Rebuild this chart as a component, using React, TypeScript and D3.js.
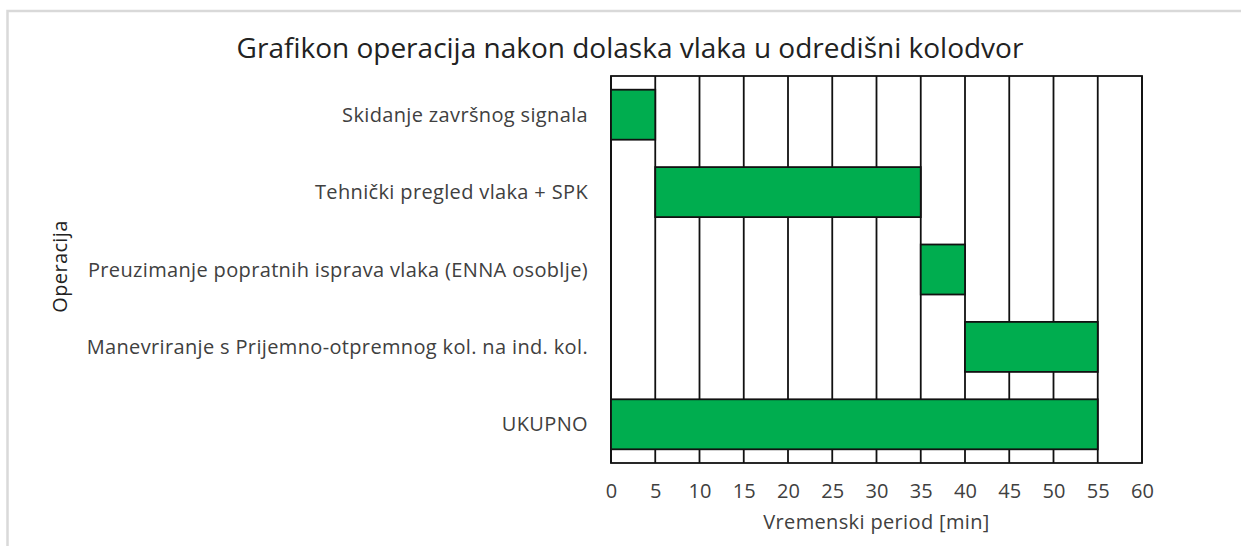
import React, { useRef, useEffect } from 'react';
import * as d3 from 'd3';

const operations = [
  'Skidanje završnog signala',
  'Tehnički pregled vlaka + SPK',
  'Preuzimanje popratnih isprava vlaka (ENNA osoblje)',
  'Manevriranje s Prijemno-otpremnog kol. na ind. kol.',
  'UKUPNO',
];
const startTimes = [0, 5, 35, 40, 0];
const durations = [5, 30, 5, 15, 55];
const xTicks = [0, 5, 10, 15, 20, 25, 30, 35, 40, 45, 50, 55, 60];

const FONT = '"Open Sans", "Noto Sans", sans-serif';

export default function App() {
  const svgRef = useRef<SVGSVGElement>(null);

  useEffect(() => {
    if (!svgRef.current) return;
    const width = 1241;
    const height = 546;
    const plot = { left: 611, right: 1142, top: 76, bottom: 463 };

    const svg = d3.select(svgRef.current);
    svg.selectAll('*').remove();
    svg.attr('width', width).attr('height', height);

    svg.append('rect').attr('width', width).attr('height', height).attr('fill', '#fff');

    // outer frame (only top + left visible)
    svg
      .append('path')
      .attr('d', `M7.5,${height} L7.5,11 L${width},11`)
      .attr('fill', 'none')
      .attr('stroke', '#d9d9d9')
      .attr('stroke-width', 2.5);

    const x = d3.scaleLinear().domain([0, 60]).range([plot.left, plot.right]);
    const y = d3
      .scaleBand<string>()
      .domain(operations)
      .range([plot.top, plot.bottom])
      .paddingInner(0.354)
      .paddingOuter(0.177);

    // vertical gridlines
    svg
      .append('g')
      .selectAll('line')
      .data(xTicks)
      .enter()
      .append('line')
      .attr('x1', (d) => x(d))
      .attr('x2', (d) => x(d))
      .attr('y1', plot.top)
      .attr('y2', plot.bottom)
      .attr('stroke', '#111')
      .attr('stroke-width', 1.8);

    svg
      .append('rect')
      .attr('x', plot.left)
      .attr('y', plot.top)
      .attr('width', plot.right - plot.left)
      .attr('height', plot.bottom - plot.top)
      .attr('fill', 'none')
      .attr('stroke', '#111')
      .attr('stroke-width', 1.8);

    // bars
    svg
      .append('g')
      .selectAll('rect')
      .data(operations)
      .enter()
      .append('rect')
      .attr('x', (_, i) => x(startTimes[i]))
      .attr('y', (d) => y(d)!)
      .attr('width', (_, i) => x(startTimes[i] + durations[i]) - x(startTimes[i]))
      .attr('height', y.bandwidth())
      .attr('fill', '#00ad4f')
      .attr('stroke', '#111')
      .attr('stroke-width', 1.8);

    // category labels
    svg
      .append('g')
      .selectAll('text')
      .data(operations)
      .enter()
      .append('text')
      .attr('x', 588)
      .attr('y', (d) => y(d)! + y.bandwidth() / 2)
      .attr('dy', '0.35em')
      .attr('text-anchor', 'end')
      .attr('font-family', FONT)
      .attr('font-size', 20)
      .attr('letter-spacing', 0.35)
      .attr('fill', '#404040')
      .text((d) => d);

    // x tick labels
    const xAxis = svg
      .append('g')
      .attr('transform', `translate(0,${plot.bottom})`)
      .call(d3.axisBottom(x).tickValues(xTicks).tickSize(0).tickPadding(21));
    xAxis.select('.domain').remove();
    xAxis
      .selectAll('text')
      .attr('font-family', FONT)
      .attr('font-size', 20)
      .attr('fill', '#404040');

    // titles
    svg
      .append('text')
      .attr('x', 630)
      .attr('y', 48)
      .attr('dy', '0.35em')
      .attr('text-anchor', 'middle')
      .attr('font-family', FONT)
      .attr('font-size', 28)
      .attr('fill', '#222')
      .text('Grafikon operacija nakon dolaska vlaka u odredišni kolodvor');

    svg
      .append('text')
      .attr('x', (plot.left + plot.right) / 2)
      .attr('y', 522)
      .attr('dy', '0.35em')
      .attr('text-anchor', 'middle')
      .attr('font-family', FONT)
      .attr('font-size', 20)
      .attr('letter-spacing', 0.35)
      .attr('fill', '#404040')
      .text('Vremenski period [min]');

    svg
      .append('text')
      .attr('transform', `translate(60,${(plot.top + plot.bottom) / 2 - 3}) rotate(-90)`)
      .attr('dy', '0.35em')
      .attr('text-anchor', 'middle')
      .attr('font-family', FONT)
      .attr('font-size', 20)
      .attr('letter-spacing', 0.35)
      .attr('fill', '#222')
      .text('Operacija');
  }, []);

  return <svg ref={svgRef} style={{ position: 'absolute', left: 0, top: 0 }}></svg>;
}
